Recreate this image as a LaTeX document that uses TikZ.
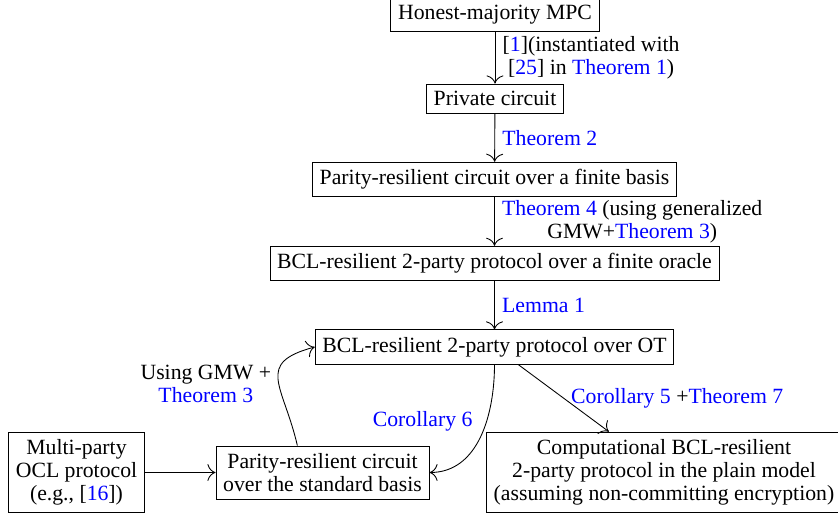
\documentclass[tikz,border=0pt]{standalone}
\usepackage{fontspec}
\setmainfont{Liberation Serif}
\usetikzlibrary{arrows.meta}
\newcommand{\lnk}[1]{\textcolor{blue}{#1}}

\begin{document}
\begin{tikzpicture}[x=0.46pt, y=-0.46pt, font=\fontsize{10}{10.7}\selectfont,
  >={To[scale=1.5]}, box/.style={draw, align=center}]
% Keep the page the size of the reference
\useasboundingbox (0,0) rectangle (838,518);

% The main chain of boxes
\node[box] (honest) at (495,15) {Honest-majority MPC};
\node[box] (priv) at (495,98.5) {Private circuit};
\node[box] (finite) at (494.5,179.5) {Parity-resilient circuit over a finite basis};
\node[box] (oracle) at (494.5,263.5) {BCL-resilient 2-party protocol over a finite oracle};
\node[box] (ot) at (494.5,347) {BCL-resilient 2-party protocol over OT};

% The bottom row
\node[box] (multi) at (76.5,472.5) {Multi-party\\OCL protocol\\(e.g., [\lnk{16}])};
\node[box] (std) at (322.5,472.5) {Parity-resilient circuit\\over the standard basis};
\node[box] (comp) at (664,472.5) {Computational BCL-resilient\\2-party protocol in the plain model\\(assuming non-committing encryption)};

% Arrows down the chain
\draw[->] (honest) -- (priv) node[right, midway, align=center] {[\lnk{1}](instantiated with\\{}[\lnk{25}] in \lnk{Theorem 1})};
\draw[->] (priv) -- (finite) node[right, midway] {\lnk{Theorem 2}};
\draw[->] (finite) -- (oracle) node[right, midway, align=center] {\lnk{Theorem 4} (using generalized\\GMW+\lnk{Theorem 3})};
\draw[->] (oracle) -- (ot) node[right, midway] {\lnk{Lemma 1}};

% Arrows at the bottom
\draw[->] (multi) -- (std);
\draw[->] (std.133) to[out=103, in=195, looseness=1.6] node[left, pos=0.45, align=center] {Using GMW +\\\lnk{Theorem 3}} (ot.west);
\draw[->] (ot.south) to[out=-90, in=0] node[left=3pt, pos=0.38] {\lnk{Corollary 6}} (std.east);
\draw[->] (ot) -- (comp) node[right, midway] {\lnk{Corollary 5} +\lnk{Theorem 7}};
\end{tikzpicture}
\end{document}
